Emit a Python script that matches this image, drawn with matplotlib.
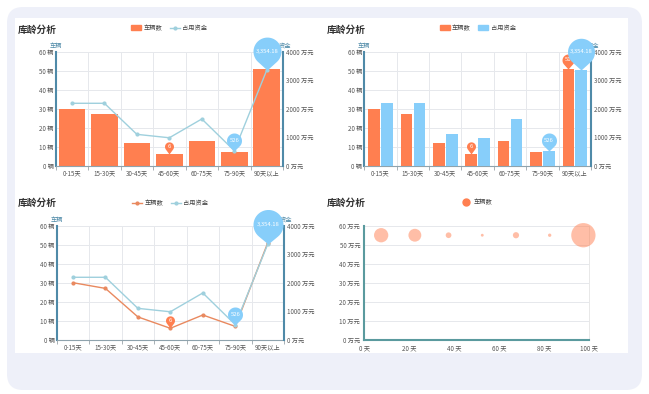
import numpy as np
import matplotlib
matplotlib.use('Agg')
import matplotlib.pyplot as plt
from matplotlib.path import Path
from matplotlib.patches import FancyBboxPatch, Rectangle
from matplotlib.lines import Line2D

plt.rcParams['font.family'] = ['Noto Sans CJK SC', 'DejaVu Sans']

# data
categories = ['0-15天', '15-30天', '30-45天', '45-60天', '60-75天', '75-90天', '90天以上']
cars = [30, 27, 12, 6, 13, 7, 51]
funds = [2190, 2190, 1100, 980, 1640, 526, 3354.18]
car_ticks = [0, 10, 20, 30, 40, 50, 60]
fund_ticks = [0, 1000, 2000, 3000, 4000]
bubble_days = [7.5, 22.5, 37.5, 52.5, 67.5, 82.5, 97.5]
bubble_amount = [55, 55, 55, 55, 55, 55, 55]
day_ticks = [0, 20, 40, 60, 80, 100]
amount_ticks = [0, 10, 20, 30, 40, 50, 60]

ORANGE = '#ff7f50'
BLUE = '#87cefa'
LINE_BLUE = '#9fd0dd'
AXIS = '#4f8aa8'
GRID = '#e6e8ec'
TXT = '#555555'

W, H = 649, 394
fig = plt.figure(figsize=(W / 100, H / 100), dpi=100)

# frame + white panel
fig.add_artist(FancyBboxPatch((0.07, 0.04), 6.35, 3.83, boxstyle='round,pad=0,rounding_size=0.16',
                              transform=fig.dpi_scale_trans, facecolor='#eef0f9', edgecolor='none', zorder=-2))
fig.add_artist(Rectangle((0.15, 0.41), 6.13, 3.35, transform=fig.dpi_scale_trans,
                         facecolor='white', edgecolor='none', zorder=-1))


def px_axes(l, t, r, b):
    ax = fig.add_axes([l / W, 1 - b / H, (r - l) / W, (b - t) / H])
    ax.set_facecolor('none')
    return ax


def pin_path(c):
    a = np.degrees(np.arccos(1 / c))
    th = np.radians(np.linspace(-90 + a, 270 - a, 40))
    verts = np.column_stack([np.cos(th), c + np.sin(th)])
    verts = np.vstack([[0, 0], verts, [0, 0]])
    codes = [Path.MOVETO] + [Path.LINETO] * 40 + [Path.CLOSEPOLY]
    return Path(verts, codes)


def pin(ax, x, y, r, color, text, c=1.4, fs=4.2, z=6):
    ms = r * 2 * (c + 1) * 0.72
    ax.plot([x], [y], marker=pin_path(c), ms=ms, color=color, mew=0, ls='none', zorder=z, clip_on=False)
    ax.annotate(text, (x, y), xytext=(0, c * r * 0.72), textcoords='offset points', ha='center',
                va='center', color='white', fontsize=fs, zorder=z + 1, annotation_clip=False)


def title(x, y):
    fig.text(x / W, 1 - y / H, '库龄分析', fontsize=7, fontweight='bold', color='#333333',
             ha='left', va='center')


def cat_axes(l, t, r, b):
    ax = px_axes(l, t, r, b)
    x = np.arange(len(categories))
    ax.set_xlim(-0.5, 6.5)
    ax.set_ylim(0, 60)
    ax.set_xticks(x)
    ax.set_xticklabels(categories, fontsize=4.5, color=TXT)
    ax.set_xticks(np.arange(-0.5, 7, 1), minor=True)
    ax.tick_params(axis='x', which='major', length=0, pad=3)
    ax.tick_params(axis='x', which='minor', length=3, color='#9aa4aa', width=0.6)
    ax.set_yticks(car_ticks)
    ax.set_yticklabels([f'{v} 辆' for v in car_ticks], fontsize=4.5, color=TXT)
    ax.tick_params(axis='y', length=0, pad=1.5)
    ax.grid(which='minor', axis='x', color=GRID, lw=0.7)
    ax.grid(which='major', axis='y', color=GRID, lw=0.7)
    ax.set_axisbelow(True)
    for s in ['top', 'right']:
        ax.spines[s].set_visible(False)
    ax.spines['left'].set_color(AXIS)
    ax.spines['left'].set_linewidth(1.5)
    ax.spines['bottom'].set_color('#8fa3ad')
    ax.spines['bottom'].set_linewidth(0.8)
    ax.text(0, 1.05, '车辆', transform=ax.transAxes, fontsize=4.5, color=AXIS, ha='center', va='center')

    ax2 = ax.twinx()
    ax2.set_ylim(0, 4000)
    ax2.set_yticks(fund_ticks)
    ax2.set_yticklabels([f'{v} 万元' for v in fund_ticks], fontsize=4.5, color=TXT)
    ax2.tick_params(axis='y', length=0, pad=2.5)
    for s in ['top', 'left', 'bottom']:
        ax2.spines[s].set_visible(False)
    ax2.spines['right'].set_color(AXIS)
    ax2.spines['right'].set_linewidth(1.5)
    ax2.text(1.01, 1.05, '资金', transform=ax2.transAxes, fontsize=4.5, color=AXIS, ha='center',
             va='center', zorder=1)
    return ax, ax2, x


def legend(ax, handles, labels, y=1.21):
    ax.legend(handles, labels, loc='center', bbox_to_anchor=(0.5, y), ncol=len(labels), frameon=False,
              fontsize=4.5, handlelength=1.6, handleheight=0.7, columnspacing=1.2, handletextpad=0.4,
              labelcolor='#444444')


# chart 1: bars + line
title(18, 29.5)
ax, ax2, x = cat_axes(55.7, 51.7, 283, 165.7)
ax.bar(x, cars, width=0.82, color=ORANGE, zorder=2)
ax2.plot(x, funds, color=LINE_BLUE, lw=1, marker='o', ms=2, zorder=3)
pin(ax, 3, cars[3], 4.5, ORANGE, str(cars[3]), c=1.7)
pin(ax2, 5, funds[5], 7.5, BLUE, '526')
pin(ax2, 6, funds[6], 14, BLUE, '3,354.18', c=1.35)
legend(ax2, [Rectangle((0, 0), 1, 1, color=ORANGE),
             Line2D([], [], color=LINE_BLUE, marker='o', ms=2, lw=1)], ['车辆数', '占用资金'])

# chart 2: grouped bars
title(326.7, 29.5)
ax, ax2, x = cat_axes(364.3, 51.7, 591, 165.7)
ax.bar(x - 0.2, cars, width=0.36, color=ORANGE, zorder=2)
ax2.bar(x + 0.2, funds, width=0.36, color=BLUE, zorder=2)
pin(ax, 3 - 0.2, cars[3], 4.5, ORANGE, str(cars[3]), c=1.7)
pin(ax, 6 - 0.2, cars[6], 6, ORANGE, str(cars[6]), c=1.5)
pin(ax2, 5 + 0.2, funds[5], 7.5, BLUE, '526')
pin(ax2, 6 + 0.2, funds[6], 13.5, BLUE, '3,354.18', c=1.35)
legend(ax2, [Rectangle((0, 0), 1, 1, color=ORANGE), Rectangle((0, 0), 1, 1, color=BLUE)],
       ['车辆数', '占用资金'])

# chart 3: two lines
title(18, 203.3)
ax, ax2, x = cat_axes(56.7, 225.7, 284, 339.7)
ax.plot(x, cars, color='#e9895f', lw=1, marker='o', ms=2, zorder=3)
ax2.plot(x, funds, color=LINE_BLUE, lw=1, marker='o', ms=2, zorder=3)
pin(ax, 3, cars[3], 4.5, ORANGE, str(cars[3]), c=1.7)
pin(ax2, 5, funds[5], 7.5, BLUE, '526')
pin(ax2, 6, funds[6], 15, BLUE, '3,354.18', c=1.3)
legend(ax2, [Line2D([], [], color='#e9895f', marker='o', ms=2, lw=1),
             Line2D([], [], color=LINE_BLUE, marker='o', ms=2, lw=1)], ['车辆数', '占用资金'], y=1.2)

# chart 4: bubbles
title(326.7, 203.3)
ax = px_axes(364.3, 225.7, 589, 340)
sizes = [(2 * 0.72 * v / 4.2) ** 2 for v in cars]
ax.scatter(bubble_days, bubble_amount, s=sizes, color=ORANGE, alpha=0.5, edgecolors='none', zorder=3,
           clip_on=False)
ax.set_xlim(0, 100)
ax.set_ylim(0, 60)
ax.set_xticks(day_ticks)
ax.set_xticklabels([f'{v} 天' for v in day_ticks], fontsize=4.5, color=TXT)
ax.set_yticks(amount_ticks)
ax.set_yticklabels([f'{v} 万元' for v in amount_ticks], fontsize=4.5, color=TXT)
ax.tick_params(length=0)
ax.tick_params(axis='x', pad=3)
ax.tick_params(axis='y', pad=3)
ax.grid(axis='y', color=GRID, lw=0.7)
ax.set_axisbelow(True)
ax.spines['top'].set_visible(False)
ax.spines['right'].set_color('#e4e4e4')
ax.spines['right'].set_linewidth(0.6)
for s in ['left', 'bottom']:
    ax.spines[s].set_color('#5a9a9e')
    ax.spines[s].set_linewidth(1.5)
legend(ax, [Line2D([], [], color=ORANGE, marker='o', ms=5, lw=0)], ['车辆数'], y=1.205)

fig.savefig('out.png', dpi=100, facecolor='white')
